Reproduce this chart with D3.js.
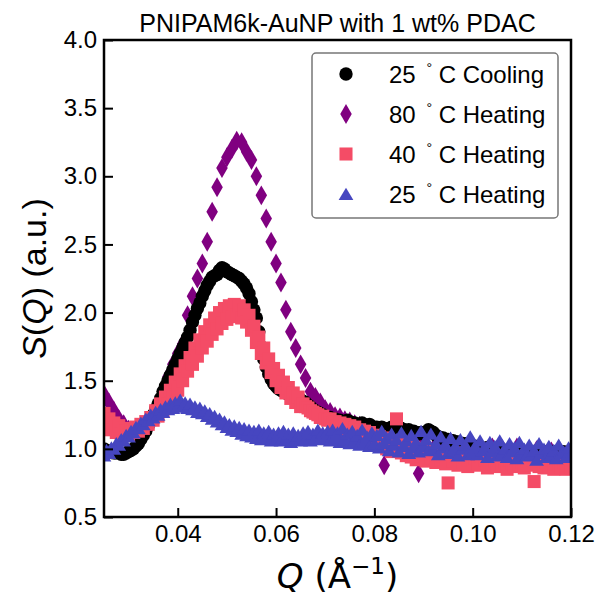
<!DOCTYPE html>
<html lang="en">
<head>
<meta charset="UTF-8">
<title>PNIPAM6k-AuNP with 1 wt% PDAC</title>
<script src="https://d3js.org/d3.v7.min.js"></script>
<style>
    body { margin: 0; background: #fff; }
    text { font-family: "Liberation Sans", Arial, sans-serif; fill: #000; }
</style>
</head>
<body>
<script>
// Q grids (1/Å): 0.025 to 0.120
// fine grid step 0.0005 (191 points), coarse grid step 0.001 (96 points, 80 C run)
var qStart = 0.025
var qFine = [], qCoarse = []
for (var i = 0; i < 191; i++) qFine.push(+(qStart + i * 0.0005).toFixed(4))
for (var i = 0; i < 96; i++) qCoarse.push(+(qStart + i * 0.001).toFixed(3))

var cooling25 = [
    1.00,0.99,0.98,0.98,0.97,0.97,0.98,0.96,0.96,0.97,0.98,
    0.99,1.00,1.02,1.04,1.07,1.10,1.13,1.17,1.21,1.25,
    1.29,1.33,1.37,1.42,1.46,1.50,1.54,1.58,1.62,1.66,
    1.70,1.74,1.78,1.82,1.87,1.93,1.98,2.03,2.07,2.12,
    2.16,2.20,2.23,2.26,2.27,2.28,2.31,2.33,2.32,2.30,
    2.29,2.28,2.27,2.26,2.25,2.23,2.21,2.18,2.14,2.08,
    2.02,1.96,1.86,1.75,1.66,1.60,1.55,1.51,1.48,1.46,
    1.44,1.43,1.42,1.41,1.40,1.39,1.38,1.37,1.37,1.36,
    1.35,1.34,1.32,1.31,1.29,1.28,1.27,1.26,1.25,1.24,
    1.23,1.23,1.22,1.22,1.21,1.21,1.20,1.20,1.21,1.20,
    1.19,1.19,1.18,1.18,1.19,1.17,1.17,1.18,1.16,1.16,
    1.16,1.15,1.16,1.15,1.14,1.15,1.16,1.14,1.15,1.16,
    1.15,1.14,1.13,1.14,1.12,1.13,1.12,1.11,1.12,1.11,
    1.12,1.14,1.13,1.12,1.10,1.09,1.08,1.08,1.07,1.07,
    1.06,1.06,1.05,1.05,1.04,1.04,1.03,1.04,1.03,1.02,
    1.02,1.01,1.01,1.00,1.00,1.01,0.99,1.00,0.99,0.99,
    0.98,0.99,0.98,0.99,0.98,0.97,0.98,0.98,0.97,0.98,
    0.97,0.98,0.97,0.97,0.96,0.98,0.97,0.96,0.97,0.98,
    0.97,0.96,0.98,0.97,0.96,0.97,0.98,0.97,0.96,0.97]

// 80 C heating, on the coarse grid
var heating80 = [
    1.40,1.34,1.28,1.22,1.18,1.14,1.12,1.12,1.14,1.19,
    1.26,1.34,1.43,1.53,1.62,1.70,1.77,1.98,2.12,2.25,
    2.36,2.52,2.74,2.92,3.06,3.14,3.20,3.26,3.25,3.18,
    3.12,3.00,2.86,2.69,2.52,2.36,2.22,2.02,1.86,1.74,
    1.62,1.52,1.42,1.38,1.34,1.29,1.27,1.24,1.23,1.21,
    1.20,1.18,1.17,1.16,1.15,1.14,1.10,0.88,1.07,1.08,
    1.06,1.01,1.03,1.03,0.82,1.05,0.98,1.00,1.03,1.01,
    1.00,1.02,0.99,0.96,0.98,1.01,0.95,0.98,0.99,1.01,
    0.98,1.00,0.92,0.96,1.01,0.93,0.95,0.93,0.99,0.97,
    0.96,0.98,0.95,0.93,0.95,0.92]

var heating40 = [
    1.26,1.18,1.22,1.14,1.19,1.12,1.17,1.11,1.15,1.13,1.10,
    1.14,1.12,1.16,1.13,1.18,1.15,1.20,1.18,1.23,1.21,
    1.28,1.24,1.33,1.28,1.38,1.33,1.43,1.38,1.49,1.43,
    1.55,1.50,1.61,1.57,1.67,1.62,1.74,1.68,1.80,1.74,
    1.86,1.79,1.91,1.84,1.96,1.88,2.00,1.92,2.03,1.95,
    2.05,1.97,2.06,1.98,2.05,1.96,2.02,1.93,1.98,1.87,
    1.90,1.78,1.82,1.70,1.74,1.63,1.66,1.56,1.59,1.50,
    1.54,1.45,1.49,1.41,1.45,1.37,1.41,1.34,1.38,1.31,
    1.33,1.31,1.30,1.28,1.27,1.26,1.25,1.23,1.24,1.22,
    1.21,1.22,1.19,1.20,1.17,1.19,1.15,1.18,1.13,1.17,
    1.12,1.16,1.10,1.14,1.08,1.13,1.07,1.12,1.05,1.10,
    1.04,1.09,1.02,1.08,1.00,1.06,0.98,1.05,1.22,1.03,
    0.97,1.04,0.95,1.02,0.94,1.01,0.92,1.00,0.95,0.98,
    0.91,0.99,0.93,0.97,0.90,0.98,0.92,0.95,0.89,0.75,
    0.96,0.91,0.95,0.88,0.97,0.90,0.94,0.87,0.96,0.89,
    0.93,0.88,0.95,0.90,0.92,0.86,0.94,0.89,0.91,0.87,
    0.93,0.88,0.90,0.85,0.92,0.89,0.87,0.93,0.88,0.90,
    0.86,0.91,0.88,0.92,0.76,0.89,0.87,0.91,0.86,0.90,
    0.87,0.92,0.85,0.89,0.88,0.86,0.90,0.85,0.88,0.86]

var heating25 = [
    0.95,0.99,0.97,1.01,1.00,1.04,1.03,1.07,1.06,1.10,1.09,
    1.13,1.12,1.16,1.15,1.19,1.18,1.22,1.21,1.25,1.23,
    1.27,1.25,1.29,1.27,1.31,1.29,1.33,1.30,1.34,1.31,
    1.36,1.31,1.34,1.30,1.33,1.29,1.31,1.27,1.30,1.26,
    1.28,1.24,1.26,1.22,1.24,1.20,1.22,1.18,1.20,1.16,
    1.18,1.14,1.17,1.13,1.16,1.11,1.15,1.10,1.14,1.09,
    1.13,1.08,1.14,1.07,1.12,1.08,1.13,1.06,1.11,1.07,
    1.12,1.06,1.13,1.07,1.11,1.05,1.12,1.07,1.10,1.06,
    1.12,1.07,1.13,1.06,1.11,1.08,1.14,1.07,1.12,1.08,
    1.13,1.06,1.14,1.08,1.12,1.05,1.15,1.07,1.11,1.04,
    1.13,1.06,1.10,1.03,1.14,1.05,1.09,1.02,1.12,1.04,
    1.10,1.01,1.13,1.04,1.08,0.99,1.11,1.03,1.07,0.98,
    1.12,1.02,1.06,0.97,1.10,1.01,1.05,0.98,1.13,1.02,
    1.07,0.99,1.11,1.00,1.04,0.96,1.09,1.01,1.03,0.97,
    1.08,0.99,1.02,0.95,1.07,1.00,1.03,0.96,1.09,0.98,
    1.02,0.96,1.06,0.99,1.01,0.94,1.05,0.98,1.02,0.95,
    1.06,0.97,1.00,0.94,1.04,0.98,1.01,0.93,1.05,0.97,
    1.00,0.95,1.03,0.96,0.99,0.92,1.04,0.97,1.00,0.94,
    1.02,0.96,0.99,0.93,1.03,0.97,0.98,0.94,1.01,0.96]

var legendLabels = ["25", "80", "40", "25"]
var legendSuffix = [" C Cooling", " C Heating", " C Heating", " C Heating"]
var xTicks = [0.04, 0.06, 0.08, 0.10, 0.12]
var yTicks = [0.5, 1.0, 1.5, 2.0, 2.5, 3.0, 3.5, 4.0]

var width = 600
var height = 596
var plotLeft = 104, plotRight = 571, plotTop = 40, plotBottom = 517

var svg = d3.select("body").append("svg")
    .attr("width", width)
    .attr("height", height)

var x = d3.scaleLinear().domain([0.025, 0.12]).range([plotLeft, plotRight])
var y = d3.scaleLinear().domain([0.5, 4.0]).range([plotBottom, plotTop])

// matplotlib style '^' triangle (isosceles)
var triangle = {
    draw: function (ctx, size) {
        var w = Math.sqrt(size)
        ctx.moveTo(0, -w * 0.45)
        ctx.lineTo(w * 0.52, w * 0.42)
        ctx.lineTo(-w * 0.52, w * 0.42)
        ctx.closePath()
    }
}

var series = [
    { name: "heating80", q: qCoarse, values: heating80, color: "#800080", type: d3.symbolDiamond, size: 115 },
    { name: "cooling25", q: qFine, values: cooling25, color: "#000000", type: d3.symbolCircle, size: 140 },
    { name: "heating40", q: qFine, values: heating40, color: "#f44c66", type: d3.symbolSquare, size: 170 },
    { name: "heating25", q: qFine, values: heating25, color: "#4646c0", type: triangle, size: 200 }
]

svg.append("clipPath").attr("id", "plotclip")
    .append("rect")
    .attr("x", plotLeft).attr("y", plotTop)
    .attr("width", plotRight - plotLeft).attr("height", plotBottom - plotTop)

var plot = svg.append("g").attr("clip-path", "url(#plotclip)")

series.forEach(function (s) {
    plot.append("g").selectAll("path")
        .data(s.values)
        .enter().append("path")
        .attr("transform", function (d, i) { return "translate(" + x(s.q[i]) + "," + y(d) + ")" })
        .attr("d", d3.symbol().type(s.type).size(s.size))
        .attr("fill", s.color)
})

// axes
svg.append("g")
    .attr("transform", "translate(0," + plotBottom + ")")
    .call(d3.axisBottom(x).tickValues(xTicks).tickFormat(d3.format(".2f"))
        .tickSizeInner(-9).tickSizeOuter(0).tickPadding(8))
svg.append("g")
    .attr("transform", "translate(" + plotLeft + ",0)")
    .call(d3.axisLeft(y).tickValues(yTicks).tickFormat(d3.format(".1f"))
        .tickSizeInner(-9).tickSizeOuter(0).tickPadding(7))

svg.selectAll(".domain").remove()
svg.selectAll(".tick line").attr("stroke", "#000").attr("stroke-width", 2)
svg.selectAll(".tick text").style("font-size", "24px").style("font-family", "Liberation Sans, Arial, sans-serif")

svg.append("rect")
    .attr("x", plotLeft).attr("y", plotTop)
    .attr("width", plotRight - plotLeft).attr("height", plotBottom - plotTop)
    .attr("fill", "none").attr("stroke", "#000").attr("stroke-width", 2.5)

// legend
var legend = svg.append("g")
legend.append("rect")
    .attr("x", 312).attr("y", 53)
    .attr("width", 246).attr("height", 165)
    .attr("rx", 4)
    .attr("fill", "#fff").attr("fill-opacity", 0.85)
    .attr("stroke", "#777").attr("stroke-width", 1.5)

var legendOrder = [series[1], series[0], series[2], series[3]]
legendOrder.forEach(function (s, i) {
    var ly = 74 + i * 40
    legend.append("path")
        .attr("transform", "translate(346," + ly + ")")
        .attr("d", d3.symbol().type(s.type).size(s.size))
        .attr("fill", s.color)
    var t = legend.append("text")
        .attr("x", 389).attr("y", ly + 9)
        .style("font-size", "24px")
    t.append("tspan").text(legendLabels[i] + " ")
    t.append("tspan").attr("dx", 4).attr("dy", -10).style("font-size", "14px").text("°")
    t.append("tspan").attr("dy", 10).text(legendSuffix[i])
})

// title and axis labels
svg.append("text")
    .attr("x", (plotLeft + plotRight) / 2).attr("y", 32)
    .attr("text-anchor", "middle")
    .style("font-size", "25px")
    .text("PNIPAM6k-AuNP with 1 wt% PDAC")

var xl = svg.append("text")
    .attr("x", (plotLeft + plotRight) / 2).attr("y", 588)
    .attr("text-anchor", "middle")
    .style("font-size", "34px")
    .style("font-family", "DejaVu Sans, sans-serif")
xl.append("tspan").style("font-style", "italic").text("Q")
xl.append("tspan").text(" (Å")
xl.append("tspan").attr("dy", -14).style("font-size", "23px").text("−1")
xl.append("tspan").attr("dy", 14).text(")")

var yl = svg.append("text")
    .attr("transform", "translate(46," + ((plotTop + plotBottom) / 2) + ") rotate(-90)")
    .attr("text-anchor", "middle")
    .style("font-size", "34px")
yl.append("tspan").style("font-style", "italic").text("S")
yl.append("tspan").text("(")
yl.append("tspan").style("font-style", "italic").text("Q")
yl.append("tspan").text(") (a.u.)")
</script>
</body>
</html>
